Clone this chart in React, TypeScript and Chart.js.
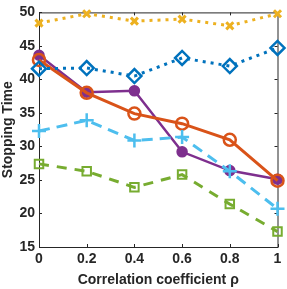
import React, { useEffect, useRef } from "react";
import { Chart, registerables } from "chart.js";
Chart.register(...registerables);

const xValues = [0, 0.2, 0.4, 0.6, 0.8, 1];
const xTicks = ["0", "0.2", "0.4", "0.6", "0.8", "1"];
const yTicks = [15, 20, 25, 30, 35, 40, 45, 50];
const seriesYellow = [48.4, 49.8, 48.7, 49.0, 48.0, 49.8];
const seriesBlue = [41.6, 41.7, 40.5, 43.2, 42.0, 44.7];
const seriesPurple = [43.6, 38.1, 38.3, 29.2, 26.4, 25.1];
const seriesOrange = [42.9, 38.0, 34.9, 33.4, 31.0, 24.9];
const seriesCyan = [32.3, 33.9, 30.9, 31.4, 26.3, 20.7];
const seriesGreen = [27.4, 26.3, 23.9, 25.8, 21.4, 17.3];

const toXY = (arr: number[]) => arr.map((y, i) => ({ x: xValues[i], y }));

const boxPlugin = {
  id: "boxTicks",
  beforeDatasetsDraw(chart: any) {
    const { ctx, chartArea: a, scales } = chart;
    ctx.save();
    ctx.strokeStyle = "#262626";
    ctx.lineWidth = 1;
    ctx.strokeRect(a.left + 0.5, a.top + 0.5, a.right - a.left, a.bottom - a.top);
    ctx.beginPath();
    for (const v of xValues) {
      const px = Math.round(scales.x.getPixelForValue(v)) + 0.5;
      ctx.moveTo(px, a.bottom);
      ctx.lineTo(px, a.bottom - 3);
      ctx.moveTo(px, a.top);
      ctx.lineTo(px, a.top + 3);
    }
    for (const v of yTicks) {
      const py = Math.round(scales.y.getPixelForValue(v)) + 0.5;
      ctx.moveTo(a.left, py);
      ctx.lineTo(a.left + 3, py);
      ctx.moveTo(a.right, py);
      ctx.lineTo(a.right - 3, py);
    }
    ctx.stroke();
    ctx.restore();
  },
};

export default function App() {
  const ref = useRef<HTMLCanvasElement>(null);
  useEffect(() => {
    document.body.style.margin = "0";
    const font = { family: "Liberation Sans, Arial, sans-serif", size: 14, weight: "bold" as const };
    const chart = new Chart(ref.current!, {
      type: "line",
      data: {
        datasets: [
          {
            data: toXY(seriesPurple), borderColor: "#7E2F8E", backgroundColor: "#7E2F8E",
            borderWidth: 2.5, pointStyle: "circle", pointRadius: 5, pointBorderWidth: 1.5, order: 6, clip: false,
          },
          {
            data: toXY(seriesOrange), borderColor: "#D95319", backgroundColor: "rgba(255,255,255,0)",
            borderWidth: 3, pointStyle: "circle", pointRadius: 6, pointBorderWidth: 2.5, order: 5, clip: false,
          },
          {
            data: toXY(seriesCyan), borderColor: "#4DBEEE", backgroundColor: "#4DBEEE",
            borderWidth: 3, borderDash: [11, 7], pointStyle: "cross", pointRadius: 7, pointBorderWidth: 2.5, order: 4, clip: false,
          },
          {
            data: toXY(seriesGreen), borderColor: "#77AC30", backgroundColor: "rgba(255,255,255,0)",
            borderWidth: 3, borderDash: [10, 8], pointStyle: "rect", pointRadius: 6, pointBorderWidth: 2, order: 3, clip: false,
          },
          {
            data: toXY(seriesBlue), borderColor: "#0072BD", backgroundColor: "rgba(255,255,255,0)",
            borderWidth: 3, borderDash: [3, 5], pointStyle: "rectRot", pointRadius: 7, pointBorderWidth: 2.5, order: 2, clip: false,
          },
          {
            data: toXY(seriesYellow), borderColor: "#EDB120", backgroundColor: "#EDB120",
            borderWidth: 3, borderDash: [3, 5], pointStyle: "crossRot", pointRadius: 5, pointBorderWidth: 3, order: 1, clip: false,
          },
        ],
      },
      options: {
        animation: false,
        responsive: false,
        maintainAspectRatio: false,
        layout: { padding: { top: 4, right: 7, left: 0, bottom: 0 } },
        plugins: { legend: { display: false }, tooltip: { enabled: false } },
        scales: {
          x: {
            type: "linear", min: 0, max: 1,
            afterFit: (s: any) => { s.height = 42; },
            afterBuildTicks: (s: any) => { s.ticks = xValues.map((v) => ({ value: v })); },
            grid: { display: false, drawTicks: false },
            border: { display: false },
            ticks: { color: "#262626", font, padding: 4, callback: (v: any) => xTicks[xValues.indexOf(v)] ?? "", maxRotation: 0, autoSkip: false },
            title: { display: true, text: "Correlation coefficient ρ", color: "#262626", font, padding: { top: 1, bottom: 0 } },
          },
          y: {
            type: "linear", min: 15, max: 50,
            afterFit: (s: any) => { s.width = 39; },
            afterBuildTicks: (s: any) => { s.ticks = yTicks.map((v) => ({ value: v })); },
            grid: { display: false, drawTicks: false },
            border: { display: false },
            ticks: { color: "#262626", font, padding: 4 },
            title: { display: true, text: "Stopping Time", color: "#262626", font, padding: { top: 0, bottom: 0 } },
          },
        },
      },
      plugins: [boxPlugin],
    });
    return () => chart.destroy();
  }, []);
  return (
    <div style={{ position: "absolute", left: 0, top: 0, width: 287, height: 289 }}>
      <canvas ref={ref} width={287} height={289} style={{ width: 287, height: 289 }} />
    </div>
  );
}
